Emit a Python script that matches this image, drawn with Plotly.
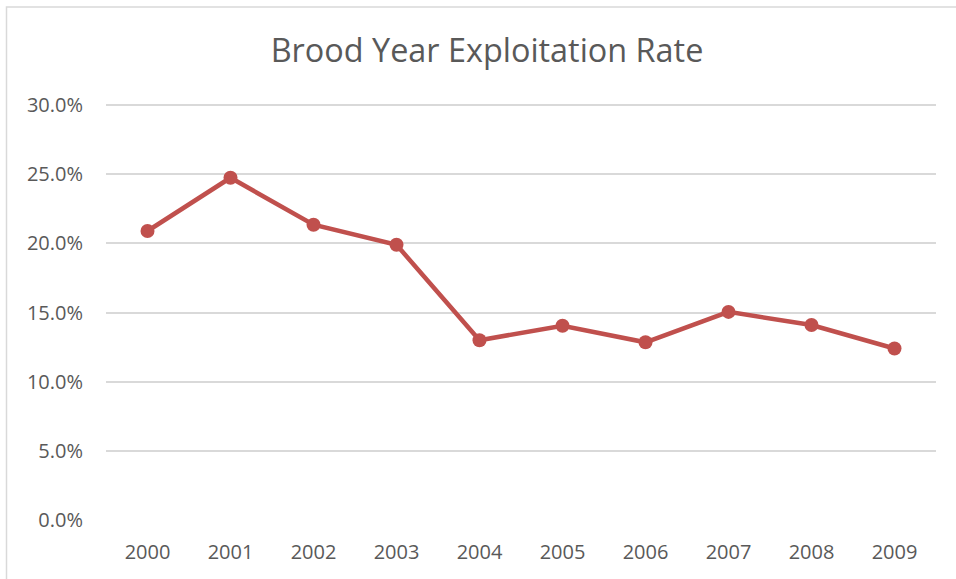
import plotly.graph_objects as go

years = ["2000", "2001", "2002", "2003", "2004", "2005", "2006", "2007", "2008", "2009"]
rates = [20.9, 24.75, 21.35, 19.9, 13.0, 14.05, 12.85, 15.05, 14.1, 12.4]
y_ticks = [0, 5, 10, 15, 20, 25, 30]
y_tick_labels = ["0.0%", "5.0%", "10.0%", "15.0%", "20.0%", "25.0%", "30.0%"]

W, H = 956, 579
L, R, T, B = 106, 20, 101, 59
pw, ph = W - L - R, H - T - B

fig = go.Figure()
fig.add_trace(go.Scatter(
    x=years, y=rates, mode="lines+markers",
    line=dict(color="#C0504D", width=4.5),
    marker=dict(color="#C0504D", size=14),
    hoverinfo="x+y",
))

font = "Open Sans, Noto Sans, sans-serif"
fig.update_layout(
    width=W, height=H,
    margin=dict(l=L, r=R, t=T, b=B),
    paper_bgcolor="white", plot_bgcolor="white",
    showlegend=False,
    title=dict(text="Brood Year Exploitation Rate", x=487 / W, xanchor="center",
               y=1 - 51 / H, yanchor="middle",
               font=dict(family=font, size=32.4, color="#595959")),
    xaxis=dict(type="category", range=[-0.5, len(years) - 0.5],
               showgrid=False, zeroline=False, showline=False,
               ticks="", tickfont=dict(family=font, size=20, color="#595959"),
               ticklabelstandoff=18),
    yaxis=dict(range=[0, 30.3], tickvals=y_ticks, ticktext=y_tick_labels,
               showgrid=True, gridcolor="#d9d9d9", gridwidth=1.5,
               zeroline=False, showline=False, ticks="",
               tickfont=dict(family=font, size=20, color="#595959"),
               ticklabelstandoff=22),
    shapes=[dict(type="rect", xref="paper", yref="paper",
                 x0=(6.5 - L) / pw, x1=(W + 20 - L) / pw,
                 y0=-(B + 20) / ph, y1=1 + (T - 7) / ph,
                 line=dict(color="#d9d9d9", width=1.5), layer="below")],
)
fig.write_html("out.html")
